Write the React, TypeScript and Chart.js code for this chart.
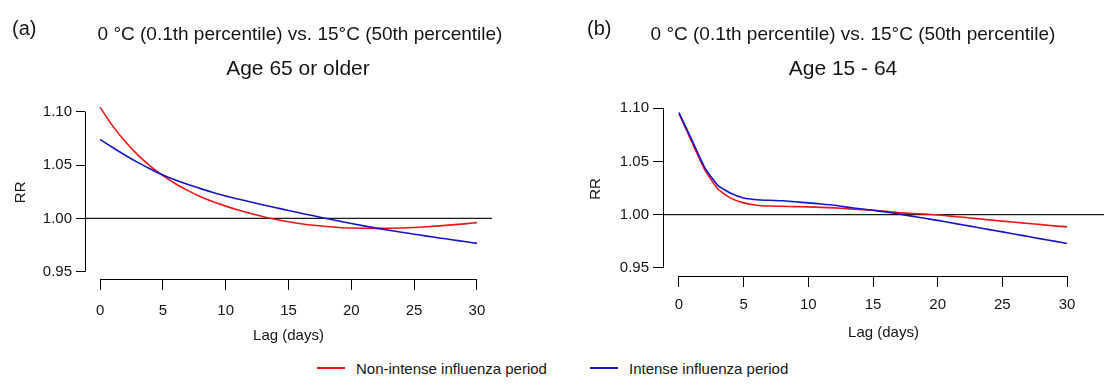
import React, { useEffect, useRef } from 'react';
import { Chart, registerables } from 'chart.js';

Chart.register(...registerables);

// ---------- data ----------
const lags = [0, 1, 2, 3, 4, 5, 6, 7, 8, 9, 10, 11, 12, 13, 14, 15, 16, 17, 18, 19, 20, 21, 22, 23, 24, 25, 26, 27, 28, 29, 30];

// Panel (a): Age 65 or older
const nonIntenseA = [1.104, 1.0867, 1.072, 1.0595, 1.0489, 1.040, 1.0325, 1.026, 1.0203, 1.0156, 1.0115, 1.0078, 1.0045, 1.0015, 0.999, 0.9968, 0.995, 0.9935, 0.9924, 0.9915, 0.991, 0.9907, 0.9906, 0.9907, 0.991, 0.9915, 0.9922, 0.993, 0.9939, 0.9949, 0.996];
const intenseA = [1.074, 1.0664, 1.0592, 1.0525, 1.0463, 1.0406, 1.0359, 1.0317, 1.0279, 1.0243, 1.021, 1.0181, 1.0153, 1.0126, 1.01, 1.0074, 1.0049, 1.0024, 0.9999, 0.9975, 0.9952, 0.993, 0.9909, 0.9889, 0.987, 0.9852, 0.9834, 0.9817, 0.98, 0.9783, 0.9766];

// Panel (b): Age 15 - 64
const nonIntenseB = [1.095, 1.068, 1.042, 1.024, 1.0155, 1.011, 1.0088, 1.008, 1.0078, 1.0075, 1.0072, 1.0068, 1.0063, 1.0055, 1.0048, 1.004, 1.003, 1.0018, 1.001, 1.0004, 0.9996, 0.9985, 0.9974, 0.9962, 0.995, 0.9938, 0.9927, 0.9916, 0.9905, 0.9894, 0.9884];
const intenseB = [1.096, 1.070, 1.044, 1.0275, 1.020, 1.0156, 1.014, 1.0134, 1.013, 1.012, 1.011, 1.010, 1.0088, 1.007, 1.0055, 1.004, 1.0024, 1.0005, 0.9985, 0.9965, 0.9945, 0.9923, 0.9902, 0.988, 0.9858, 0.9837, 0.9815, 0.9793, 0.9771, 0.975, 0.9728];

const xTicks = [0, 5, 10, 15, 20, 25, 30];
const yTicks = [0.95, 1.0, 1.05, 1.1];
const referenceRR = 1.0;

const titleText = '0 \u00B0C (0.1th percentile) vs. 15\u00B0C (50th percentile)';
const subtitleA = 'Age 65 or older';
const subtitleB = 'Age 15 - 64';
const legendNonIntense = 'Non-intense influenza period';
const legendIntense = 'Intense influenza period';

// ---------- styles ----------
const FONT = '"Liberation Sans", Arial, Helvetica, sans-serif';
const RED = '#f01414';
const BLUE = '#1414c8';
const TEXT = '#151515';

const axisLinePlugin = {
  id: 'axisLines',
  afterDraw(chart: any) {
    const { ctx, chartArea, scales } = chart;
    const x = scales.x;
    const y = scales.y;
    ctx.save();
    ctx.strokeStyle = '#000';
    ctx.lineWidth = 1;
    ctx.beginPath();
    const ax = Math.round(chartArea.left) + 0.5;
    ctx.moveTo(ax, y.getPixelForValue(yTicks[0]));
    ctx.lineTo(ax, y.getPixelForValue(yTicks[yTicks.length - 1]));
    const ay = Math.round(chartArea.bottom) + 0.5;
    ctx.moveTo(x.getPixelForValue(xTicks[0]), ay);
    ctx.lineTo(x.getPixelForValue(xTicks[xTicks.length - 1]), ay);
    ctx.stroke();
    ctx.restore();
  },
};

type PanelCfg = {
  red: number[];
  blue: number[];
  xMin: number;
  xMax: number;
  yMin: number;
  yMax: number;
  padTop: number;
  padRight: number;
  yWidth: number;
  xHeight: number;
  yTitlePad: number;
  xTitlePad: number;
  yTickLen: number;
  xTickLen: number;
  xLabelPad: number;
  smooth: boolean;
};

function makeChart(canvas: HTMLCanvasElement, c: PanelCfg) {
  const lineStyle = c.smooth
    ? { cubicInterpolationMode: 'monotone' as const }
    : { tension: 0.15 };
  return new Chart(canvas, {
    type: 'line',
    data: {
      datasets: [
        {
          data: lags.map((l, i) => ({ x: l, y: c.blue[i] })),
          borderColor: BLUE,
          borderWidth: 1.6,
          pointRadius: 0,
          ...lineStyle,
        },
        {
          data: lags.map((l, i) => ({ x: l, y: c.red[i] })),
          borderColor: RED,
          borderWidth: 1.6,
          pointRadius: 0,
          ...lineStyle,
        },
        {
          data: [
            { x: c.xMin - 5, y: referenceRR },
            { x: c.xMax + 5, y: referenceRR },
          ],
          borderColor: '#1a1a1a',
          borderWidth: 1.2,
          pointRadius: 0,
        },
      ],
    },
    options: {
      responsive: false,
      animation: false,
      events: [],
      layout: { padding: { left: 0, right: c.padRight, top: c.padTop, bottom: 0 } },
      plugins: {
        legend: { display: false },
        tooltip: { enabled: false },
        title: { display: false },
      },
      scales: {
        x: {
          type: 'linear',
          min: c.xMin,
          max: c.xMax,
          afterBuildTicks: (s: any) => {
            s.ticks = xTicks.map((v) => ({ value: v }));
          },
          afterFit: (s: any) => {
            s.height = c.xHeight;
          },
          grid: {
            drawOnChartArea: false,
            drawTicks: true,
            tickLength: c.xTickLen,
            color: '#000',
            tickColor: '#000',
            lineWidth: 1,
          },
          border: { display: false },
          ticks: {
            padding: c.xLabelPad,
            color: TEXT,
            font: { family: FONT, size: 15 },
            maxRotation: 0,
            autoSkip: false,
            callback: (v: any) => String(v),
          },
          title: {
            display: true,
            text: 'Lag (days)',
            color: TEXT,
            font: { family: FONT, size: 15 },
            padding: { top: 0, bottom: c.xTitlePad },
          },
        },
        y: {
          type: 'linear',
          min: c.yMin,
          max: c.yMax,
          afterBuildTicks: (s: any) => {
            s.ticks = yTicks.map((v) => ({ value: v }));
          },
          afterFit: (s: any) => {
            s.width = c.yWidth;
          },
          grid: {
            drawOnChartArea: false,
            drawTicks: true,
            tickLength: c.yTickLen,
            color: '#000',
            tickColor: '#000',
            lineWidth: 1,
          },
          border: { display: false },
          ticks: {
            padding: 4,
            color: TEXT,
            font: { family: FONT, size: 15 },
            autoSkip: false,
            callback: (v: any) => Number(v).toFixed(2),
          },
          title: {
            display: true,
            text: 'RR',
            color: TEXT,
            font: { family: FONT, size: 15 },
            padding: { top: c.yTitlePad, bottom: 0 },
          },
        },
      },
    } as any,
    plugins: [axisLinePlugin],
  });
}

const CANVAS_W = 552;
const CANVAS_H = 350;

const abs = (style: React.CSSProperties): React.CSSProperties => ({ position: 'absolute', ...style });

export default function App() {
  const refA = useRef<HTMLCanvasElement>(null);
  const refB = useRef<HTMLCanvasElement>(null);

  useEffect(() => {
    const chartA = makeChart(refA.current!, {
      red: nonIntenseA,
      blue: intenseA,
      xMin: -1.2,
      xMax: 31.2,
      yMin: 0.9432,
      yMax: 1.1057,
      padTop: 105.6,
      padRight: CANVAS_W - 492,
      yWidth: 85,
      xHeight: CANVAS_H - 279,
      yTitlePad: 12,
      xTitlePad: 5,
      yTickLen: 9,
      xTickLen: 11,
      xLabelPad: 12,
      smooth: true,
    });
    const chartB = makeChart(refB.current!, {
      red: nonIntenseB,
      blue: intenseB,
      xMin: -1.237,
      xMax: 32.86,
      yMin: 0.9422,
      yMax: 1.1059,
      padTop: 102,
      padRight: 0,
      yWidth: 111,
      xHeight: CANVAS_H - 276,
      yTitlePad: 35,
      xTitlePad: 8,
      yTickLen: 10,
      xTickLen: 11,
      xLabelPad: 9,
      smooth: false,
    });
    return () => {
      chartA.destroy();
      chartB.destroy();
    };
  }, []);

  const titleStyle = (cx: number, top: number, size: number): React.CSSProperties =>
    abs({
      left: cx - 300,
      width: 600,
      top,
      textAlign: 'center',
      fontSize: size,
      lineHeight: 1,
      whiteSpace: 'nowrap',
      color: TEXT,
    });

  return (
    <div
      style={abs({
        left: 0,
        top: 0,
        width: 1104,
        height: 387,
        background: '#fff',
        overflow: 'hidden',
        fontFamily: FONT,
      })}
    >
      <canvas ref={refA} width={CANVAS_W} height={CANVAS_H} style={abs({ left: 0, top: 0, display: 'block' })} />
      <canvas ref={refB} width={CANVAS_W} height={CANVAS_H} style={abs({ left: 552, top: 0, display: 'block' })} />

      <div style={abs({ left: 12, top: 18, fontSize: 20, lineHeight: 1, color: TEXT })}>(a)</div>
      <div style={titleStyle(300, 24, 19)}>{titleText}</div>
      <div style={titleStyle(298, 57, 21)}>{subtitleA}</div>

      <div style={abs({ left: 587, top: 18, fontSize: 20, lineHeight: 1, color: TEXT })}>(b)</div>
      <div style={titleStyle(853, 24, 19)}>{titleText}</div>
      <div style={titleStyle(843, 57, 21)}>{subtitleB}</div>

      <div style={abs({ left: 317, top: 367, width: 28, height: 2, background: RED })} />
      <div style={abs({ left: 356, top: 361, fontSize: 15, lineHeight: 1, color: TEXT, whiteSpace: 'nowrap' })}>
        {legendNonIntense}
      </div>
      <div style={abs({ left: 590, top: 367, width: 28, height: 2, background: BLUE })} />
      <div style={abs({ left: 629, top: 361, fontSize: 15, lineHeight: 1, color: TEXT, whiteSpace: 'nowrap' })}>
        {legendIntense}
      </div>
    </div>
  );
}
